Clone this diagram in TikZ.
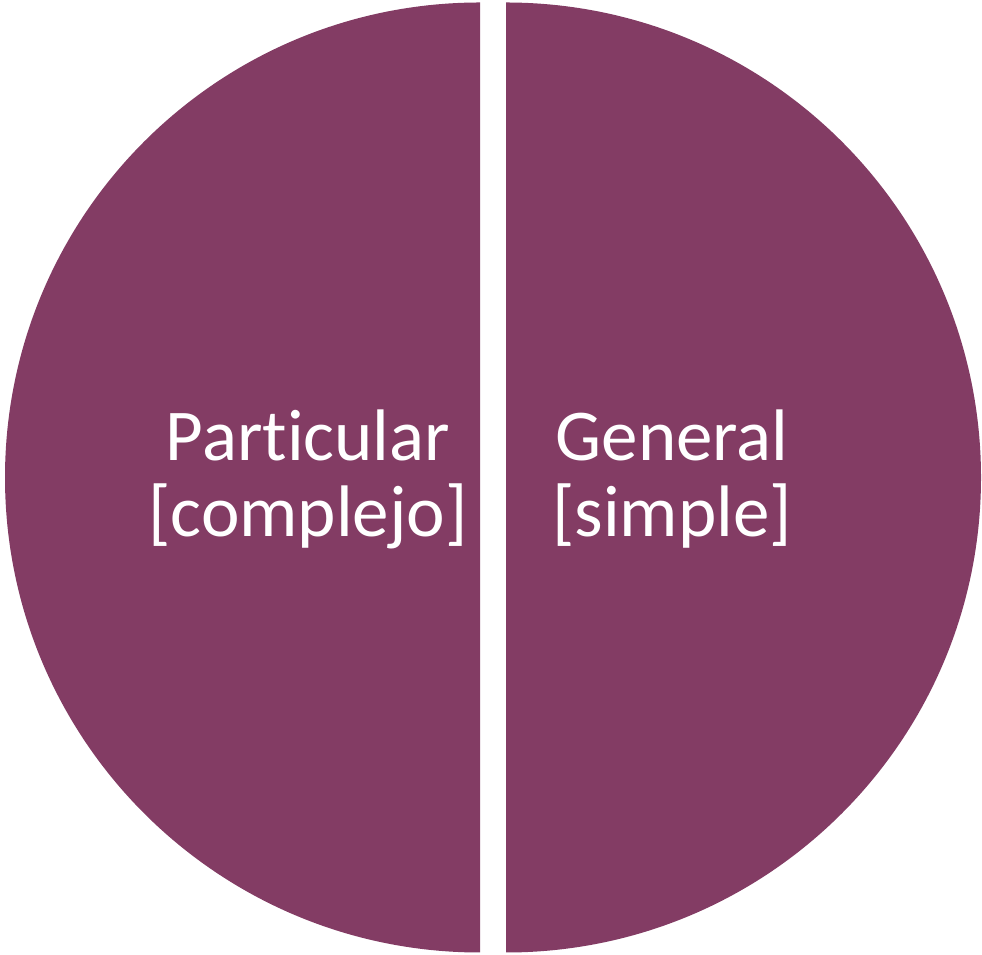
\documentclass[tikz,border=0pt]{standalone}
\usepackage{fontspec}
\setmainfont[Ligatures=NoCommon]{Carlito}
\usetikzlibrary{positioning}
\definecolor{plum}{HTML}{833C64}
\begin{document}
\begin{tikzpicture}[
  x=1pt, y=1pt,
  font=\fontsize{73}{76}\selectfont
]
\tikzset{
    halfdisk/.style = {fill=plum, draw=none},
    halflabel/.style = {text=white, align=center, anchor=base, inner sep=0pt}
}
\useasboundingbox (0,0) rectangle (982,955);
\coordinate (CL) at (480,477.5);
\coordinate (CR) at (506,477.5);
\fill[halfdisk] (CL) ++(0,475) arc[start angle=90, end angle=270, radius=475] -- cycle;
\fill[halfdisk] (CR) ++(0,-475) arc[start angle=-90, end angle=90, radius=475] -- cycle;
% base anchor sits on the second line
\node[halflabel] (particular) at (308,418) {Particular\\{[complejo]}};
\node[halflabel] (general) at (672,418) {General\\{[simple]}};
\end{tikzpicture}
\end{document}
